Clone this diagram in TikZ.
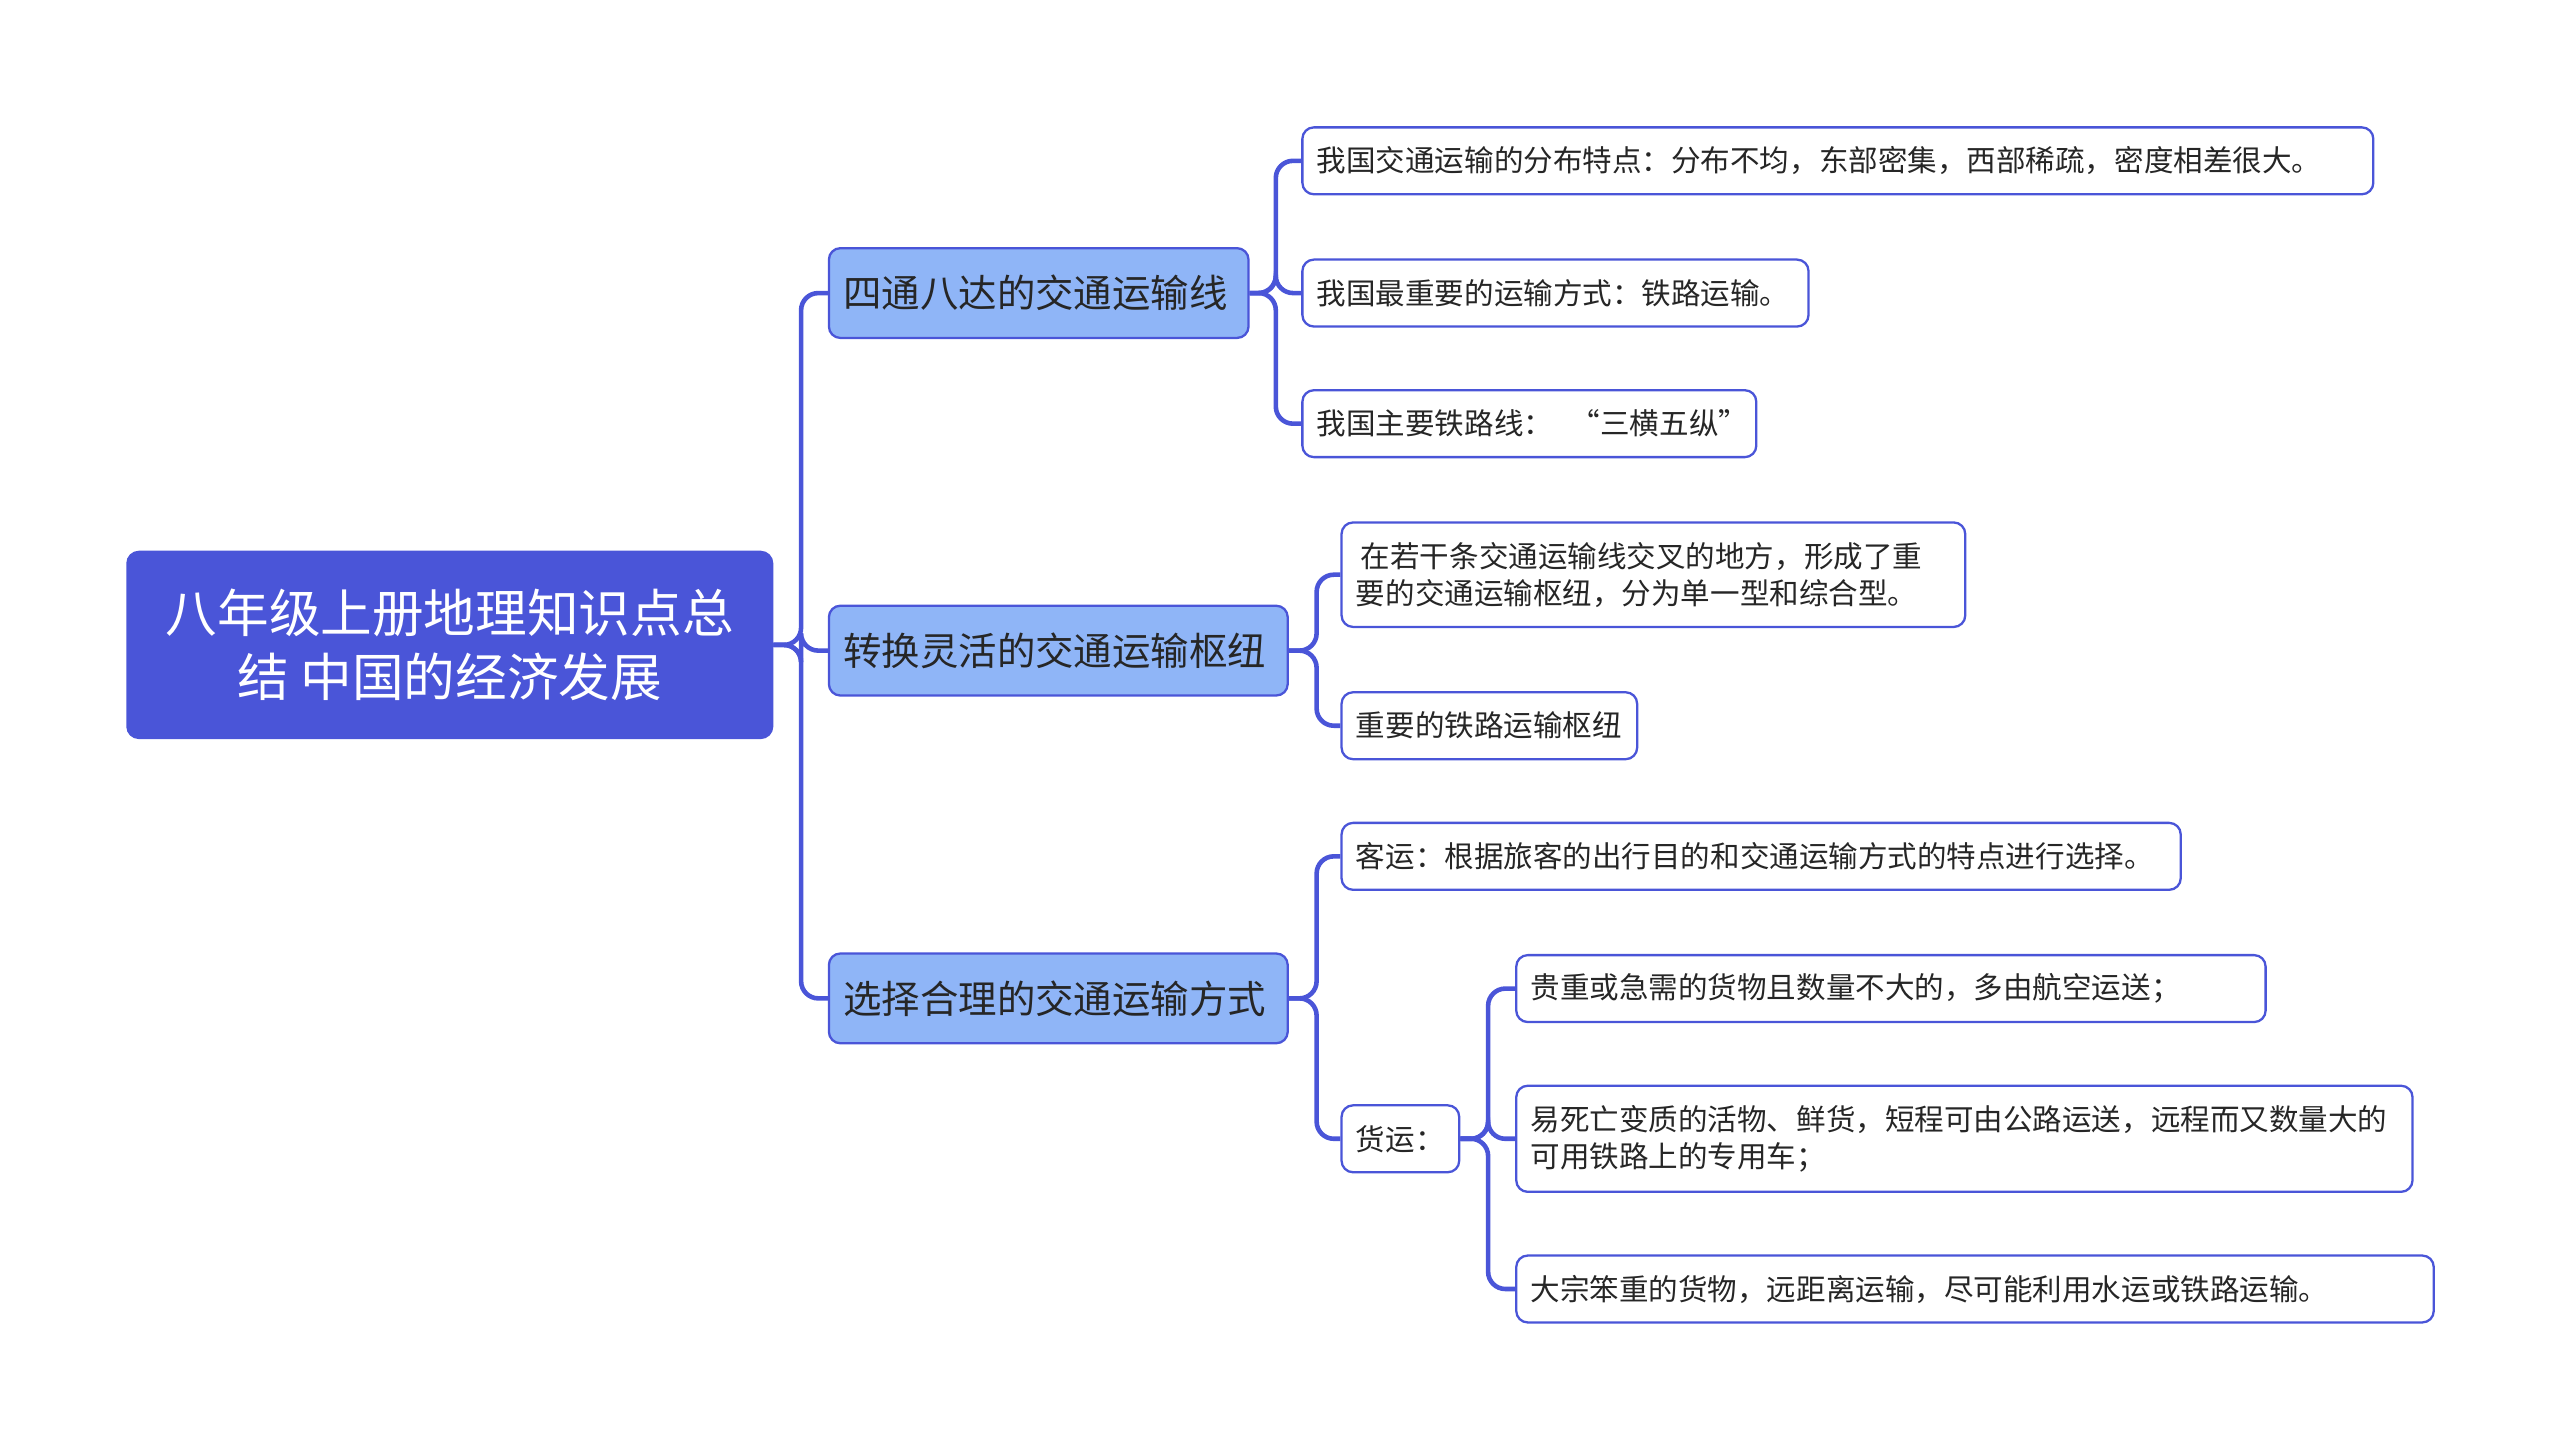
\documentclass[tikz,border=0pt]{standalone}
\usepackage{fontspec}
\setmainfont{Noto Sans CJK SC}
\definecolor{mainblue}{HTML}{4A55D8}
\definecolor{lightblue}{HTML}{8FB5F7}
\definecolor{linkblue}{HTML}{4A55D8}
\tikzset{
  rootbox/.style={draw=mainblue, fill=mainblue, text=white, rounded corners=4pt, line width=0.8pt,
    font=\fontsize{18}{22.5}\selectfont, align=center, minimum height=2.28cm, inner xsep=6pt},
  topicbox/.style={draw=mainblue, fill=lightblue, text=black!85, rounded corners=4pt, line width=0.8pt,
    font=\fontsize{13.4}{16}\selectfont, minimum height=1.1cm, anchor=west, inner xsep=5pt, text width=#1},
  leafbox/.style={draw=mainblue, fill=white, text=black!85, rounded corners=4pt, line width=0.8pt,
    font=\fontsize{10.3}{13}\selectfont, minimum height=0.82cm, anchor=west, align=left, inner xsep=5pt, text width=#1},
  link/.style={draw=linkblue, line width=1.6pt, rounded corners=6pt},
}
\begin{document}
\begin{tikzpicture}[x=0.02cm, y=-0.02cm]
\useasboundingbox (0,0) rectangle (1568,889);
% root and topics
\node[rootbox, minimum width=7.9cm] (root) at (275.5,395) {八年级上册地理知识点总\\结 中国的经济发展};
\node[topicbox=4.79cm] (roads) at (507,179.5) {四通八达的交通运输线};
\node[topicbox=5.27cm] (hubs) at (507,398.5) {转换灵活的交通运输枢纽};
\node[topicbox=5.27cm] (modes) at (507,611.5) {选择合理的交通运输方式};
% leaves
\node[leafbox=12.77cm] (spread) at (797,98.5) {我国交通运输的分布特点：分布不均，东部密集，西部稀疏，密度相差很大。};
\node[leafbox=5.85cm] (rail) at (797,179.5) {我国最重要的运输方式：铁路运输。};
\node[leafbox=5.21cm] (lines) at (797,259.5) {\mbox{我国主要铁路线：\hspace{0.6em}“三横五纵”}};
\node[leafbox=7.29cm, minimum height=1.28cm] (junction) at (821,352) {\,在若干条交通运输线交叉的地方，形成了重\\要的交通运输枢纽，分为单一型和综合型。};
\node[leafbox=3.27cm] (railhub) at (821,444.5) {重要的铁路运输枢纽};
\node[leafbox=9.93cm] (passenger) at (821,524.5) {客运：根据旅客的出行目的和交通运输方式的特点进行选择。};
\node[leafbox=1.09cm] (freight) at (821,697.5) {货运：};
\node[leafbox=8.83cm] (precious) at (928,605.5) {贵重或急需的货物且数量不大的，多由航空运送；};
\node[leafbox=10.63cm, minimum height=1.3cm] (perish) at (928,697.5) {易死亡变质的活物、鲜货，短程可由公路运送，远程而又数量大的\\可用铁路上的专用车；};
\node[leafbox=10.89cm] (bulk) at (928,789.5) {大宗笨重的货物，远距离运输，尽可能利用水运或铁路运输。};
% connectors
\foreach \t in {roads,hubs,modes} \draw[link] (root.east) -- ++(17,0) |- (\t.west);
\foreach \t in {spread,rail,lines} \draw[link] (roads.east) -- ++(16,0) |- (\t.west);
\foreach \t in {junction,railhub} \draw[link] (hubs.east) -- ++(17,0) |- (\t.west);
\foreach \t in {passenger,freight} \draw[link] (modes.east) -- ++(17,0) |- (\t.west);
\foreach \t in {precious,perish,bulk} \draw[link] (freight.east) -- ++(17,0) |- (\t.west);
\end{tikzpicture}
\end{document}
